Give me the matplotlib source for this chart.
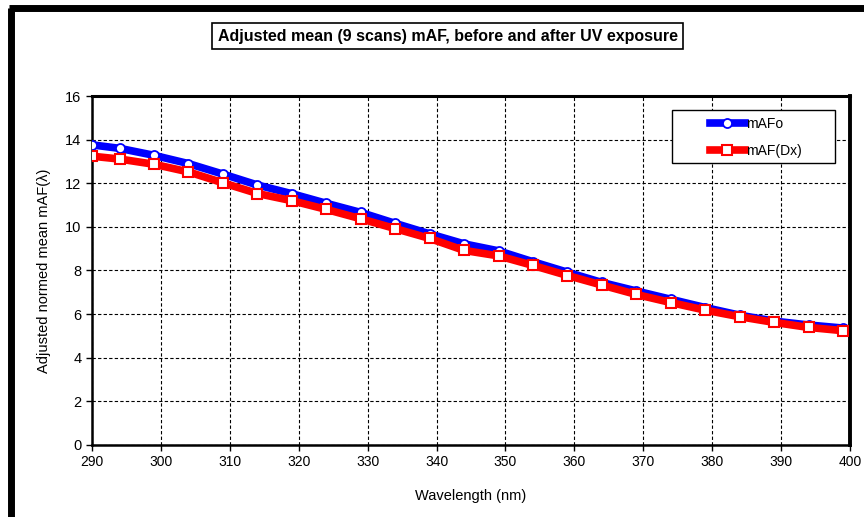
import matplotlib.pyplot as plt
from matplotlib.lines import Line2D
from matplotlib.patches import Rectangle

# wavelength (nm) and the two adjusted mean mAF series
wavelength = [290, 294, 299, 304, 309, 314, 319, 324, 329, 334, 339, 344,
              349, 354, 359, 364, 369, 374, 379, 384, 389, 394, 399]
maf_o = [13.76, 13.60, 13.28, 12.90, 12.42, 11.92, 11.52, 11.08, 10.66, 10.16, 9.68, 9.22,
         8.90, 8.40, 7.92, 7.45, 7.06, 6.68, 6.30, 5.95, 5.68, 5.50, 5.36]
maf_dx = [13.24, 13.11, 12.87, 12.52, 12.02, 11.53, 11.20, 10.80, 10.37, 9.92, 9.47, 8.92,
          8.67, 8.23, 7.77, 7.33, 6.90, 6.53, 6.18, 5.88, 5.62, 5.39, 5.24]
x_ticks = list(range(290, 401, 10))
y_ticks = list(range(0, 17, 2))

plt.rcParams['font.family'] = ['Liberation Sans', 'DejaVu Sans']

fig = plt.figure(figsize=(8.64, 5.17), dpi=100)
ax = fig.add_axes([0.1065, 0.1393, 0.8773, 0.675])

# outer frame of the chart (left and top only are visible)
fig.add_artist(Line2D([0.0127, 0.0127], [0.0, 0.985], transform=fig.transFigure,
                      color='black', lw=5, solid_capstyle='butt'))
fig.add_artist(Line2D([0.0104, 1.0], [0.9845, 0.9845], transform=fig.transFigure,
                      color='black', lw=5, solid_capstyle='butt'))

ax.plot(wavelength, maf_o, color='#0000ff', lw=5.5, marker='o', ms=6.5,
        mfc='white', mec='#0000ff', mew=1.3, label='mAFo', zorder=3)
ax.plot(wavelength, maf_dx, color='#ff0000', lw=5.5, marker='s', ms=7,
        mfc='white', mec='#ff0000', mew=1.5, label='mAF(Dx)', zorder=4)

ax.set_xlim(290, 400)
ax.set_ylim(0, 16)
ax.set_xticks(x_ticks)
ax.set_yticks(y_ticks)
ax.grid(True, color='black', linestyle=(0, (3, 2)), lw=0.8)
ax.set_axisbelow(True)
ax.tick_params(direction='out', length=4, width=1)
ax.tick_params(axis='y', labelsize=10.5)
ax.tick_params(axis='x', labelsize=10)

for side in ['left', 'bottom']:
    ax.spines[side].set_linewidth(1.8)
ax.spines['top'].set_linewidth(2.2)
ax.spines['right'].set_linewidth(2.8)

ax.set_xlabel('Wavelength (nm)', fontsize=10.5, labelpad=14)
ax.set_ylabel('Adjusted normed mean mAF(\u03bb)', fontsize=10.5, labelpad=10)

fig.text(0.518, 0.93, 'Adjusted mean (9 scans) mAF, before and after UV exposure',
         ha='center', va='center', fontweight='bold', fontsize=11.5,
         bbox=dict(boxstyle='square,pad=0.35', fc='white', ec='black', lw=1.2))

# legend box drawn separately so it can be wider than its entries
ax.add_patch(Rectangle((0.765, 0.808), 0.215, 0.152, transform=ax.transAxes,
                       fc='white', ec='black', lw=1.0, zorder=5))
leg = ax.legend(loc='center left', bbox_to_anchor=(0.806, 0.882), frameon=False,
                fontsize=10, handlelength=2.5, handletextpad=0.1, borderpad=0,
                labelspacing=0.95)
leg.set_zorder(6)

fig.savefig('out.png', dpi=100)
